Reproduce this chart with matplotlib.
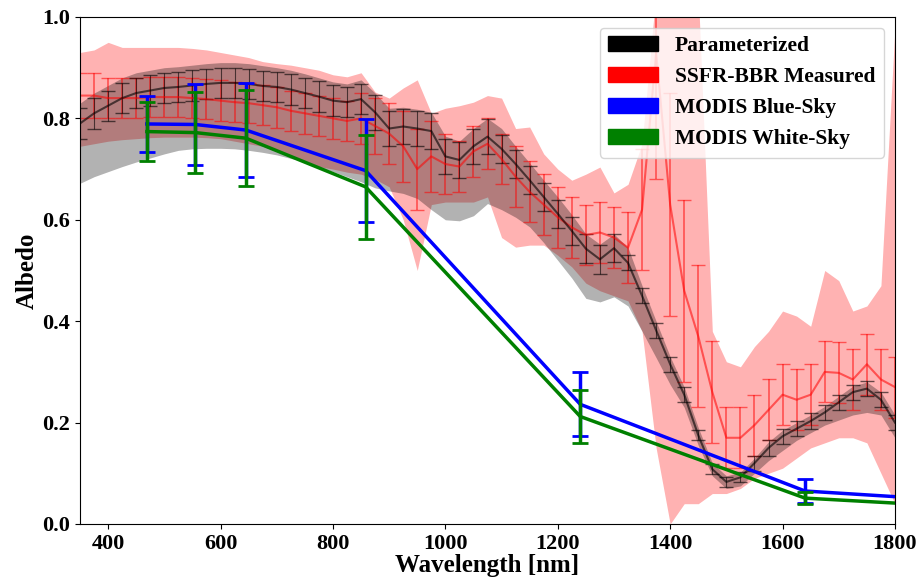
import numpy as np
import matplotlib
matplotlib.use("Agg")
import matplotlib.pyplot as plt
from matplotlib.patches import Patch

plt.rcParams['font.family'] = ['Liberation Serif', 'DejaVu Serif']
plt.rcParams['font.weight'] = 'bold'
plt.rcParams['axes.labelweight'] = 'bold'
plt.rcParams['font.size'] = 16

# spectral grid (nm)
wl = np.arange(350, 1801, 25)

# parameterized albedo (mean, error, and spread)
par = [0.79, 0.81, 0.825, 0.84, 0.85, 0.855, 0.86, 0.862, 0.865, 0.868,
       0.87, 0.87, 0.868, 0.864, 0.862, 0.857, 0.85, 0.843, 0.835, 0.832,
       0.838, 0.812, 0.78, 0.784, 0.78, 0.775, 0.725, 0.718, 0.745, 0.764,
       0.74, 0.71, 0.678, 0.645, 0.612, 0.578, 0.543, 0.522, 0.544, 0.515,
       0.45, 0.382, 0.315, 0.255, 0.175, 0.108, 0.083, 0.092, 0.12, 0.15,
       0.173, 0.188, 0.203, 0.22, 0.24, 0.26, 0.267, 0.245, 0.2]
par_err = [0.03] * 21 + [0.035] * 9 + [0.028] * 9 + [0.015] * 5 + [0.01] * 4 + [0.015] * 11
par_lo = [0.672, 0.685, 0.695, 0.705, 0.714, 0.722, 0.73, 0.737, 0.74, 0.741,
          0.741, 0.74, 0.737, 0.733, 0.728, 0.721, 0.715, 0.705, 0.695, 0.685,
          0.675, 0.663, 0.657, 0.652, 0.642, 0.62, 0.6, 0.598, 0.608, 0.632,
          0.62, 0.605, 0.586, 0.555, 0.52, 0.485, 0.445, 0.438, 0.448, 0.43,
          0.38, 0.328, 0.275, 0.23, 0.155, 0.095, 0.07, 0.075, 0.1, 0.125,
          0.145, 0.165, 0.18, 0.195, 0.205, 0.215, 0.22, 0.215, 0.17]
par_hi = [0.83, 0.85, 0.865, 0.88, 0.89, 0.895, 0.9, 0.902, 0.905, 0.908,
          0.91, 0.91, 0.908, 0.904, 0.9, 0.895, 0.888, 0.88, 0.872, 0.868,
          0.876, 0.85, 0.82, 0.822, 0.818, 0.812, 0.765, 0.755, 0.78, 0.8,
          0.78, 0.745, 0.712, 0.678, 0.645, 0.61, 0.572, 0.552, 0.572, 0.545,
          0.47, 0.4, 0.33, 0.27, 0.19, 0.12, 0.095, 0.102, 0.13, 0.162,
          0.185, 0.2, 0.215, 0.232, 0.252, 0.272, 0.28, 0.26, 0.215]

# SSFR-BBR measured albedo
ssfr = [0.845, 0.845, 0.84, 0.84, 0.84, 0.842, 0.842, 0.842, 0.84, 0.838,
        0.835, 0.832, 0.83, 0.826, 0.822, 0.815, 0.81, 0.805, 0.8, 0.795,
        0.8, 0.785, 0.77, 0.745, 0.7, 0.725, 0.71, 0.705, 0.735, 0.75,
        0.72, 0.685, 0.655, 0.63, 0.605, 0.585, 0.57, 0.575, 0.565, 0.545,
        0.62, 0.93, 0.63, 0.46, 0.37, 0.26, 0.17, 0.17, 0.195, 0.225,
        0.255, 0.245, 0.255, 0.3, 0.298, 0.285, 0.315, 0.285, 0.27]
ssfr_err = [0.045, 0.045] + [0.04] * 18 + [0.05, 0.055, 0.06, 0.07, 0.08, 0.07, 0.06] \
    + [0.05] * 4 + [0.06] * 8 + [0.07, 0.12, 0.25, 0.22, 0.18, 0.14, 0.1, 0.06] + [0.06] * 12
ssfr_lo = [0.745, 0.75, 0.755, 0.758, 0.76, 0.762, 0.763, 0.763, 0.763, 0.762,
           0.76, 0.755, 0.75, 0.745, 0.735, 0.725, 0.715, 0.705, 0.7, 0.694,
           0.69, 0.68, 0.665, 0.6, 0.5, 0.63, 0.635, 0.635, 0.635, 0.645,
           0.565, 0.546, 0.55, 0.55, 0.53, 0.507, 0.475, 0.46, 0.45, 0.44,
           0.38, 0.15, 0.0, 0.04, 0.04, 0.06, 0.06, 0.07, 0.09, 0.1,
           0.11, 0.13, 0.15, 0.16, 0.17, 0.17, 0.16, 0.1, 0.04]
ssfr_hi = [0.93, 0.935, 0.95, 0.94, 0.94, 0.94, 0.94, 0.94, 0.938, 0.935,
           0.93, 0.925, 0.92, 0.912, 0.908, 0.905, 0.9, 0.895, 0.886, 0.882,
           0.89, 0.852, 0.84, 0.86, 0.876, 0.81, 0.82, 0.825, 0.832, 0.845,
           0.84, 0.78, 0.783, 0.73, 0.7, 0.678, 0.69, 0.704, 0.653, 0.67,
           0.75, 1.05, 1.05, 1.05, 1.05, 0.38, 0.32, 0.31, 0.35, 0.38,
           0.42, 0.41, 0.39, 0.5, 0.48, 0.42, 0.43, 0.47, 0.98]

# MODIS bands
modis_wl = [469, 555, 645, 858, 1240, 1640, 2130]
blue_sky = [0.789, 0.788, 0.777, 0.697, 0.236, 0.065, 0.031]
blue_err = [0.056, 0.08, 0.092, 0.102, 0.063, 0.024, 0.02]
white_sky = [0.774, 0.772, 0.761, 0.665, 0.212, 0.051, 0.021]
white_err = [0.058, 0.08, 0.095, 0.103, 0.052, 0.012, 0.01]

fig = plt.figure(figsize=(9.22, 5.82), dpi=100)
ax = fig.add_axes([0.0868, 0.0997, 0.8839, 0.8711])

ax.fill_between(wl, ssfr_lo, ssfr_hi, color='r', alpha=0.3, lw=0)
ax.fill_between(wl, par_lo, par_hi, color='k', alpha=0.3, lw=0)
ax.errorbar(wl, ssfr, yerr=ssfr_err, color='r', alpha=0.55, capsize=5, elinewidth=1.2, lw=1.5)
ax.errorbar(wl, par, yerr=par_err, color='k', alpha=0.6, capsize=5, elinewidth=0.8, lw=1.5)
ax.errorbar(modis_wl, blue_sky, yerr=blue_err, color='b', lw=2.5, elinewidth=2.5,
            capsize=6, capthick=2, zorder=5)
ax.errorbar(modis_wl, white_sky, yerr=white_err, color='g', lw=2.5, elinewidth=2.5,
            capsize=6, capthick=2, zorder=6)

ax.set_xlim(350, 1800)
ax.set_ylim(0, 1)
ax.set_xticks(np.arange(400, 1801, 200))
ax.set_yticks(np.arange(0, 1.01, 0.2))
ax.yaxis.set_major_formatter(matplotlib.ticker.FormatStrFormatter('%.1f'))
ax.set_xlabel('Wavelength [nm]', fontsize=18, labelpad=0)
ax.set_ylabel('Albedo', fontsize=18, labelpad=3)

handles = [Patch(color='k', label='Parameterized'),
           Patch(color='r', label='SSFR-BBR Measured'),
           Patch(color='b', label='MODIS Blue-Sky'),
           Patch(color='g', label='MODIS White-Sky')]
ax.legend(handles=handles, loc='upper right', fontsize=15.5, handlelength=2.3)

plt.savefig('out.png', dpi=100)
